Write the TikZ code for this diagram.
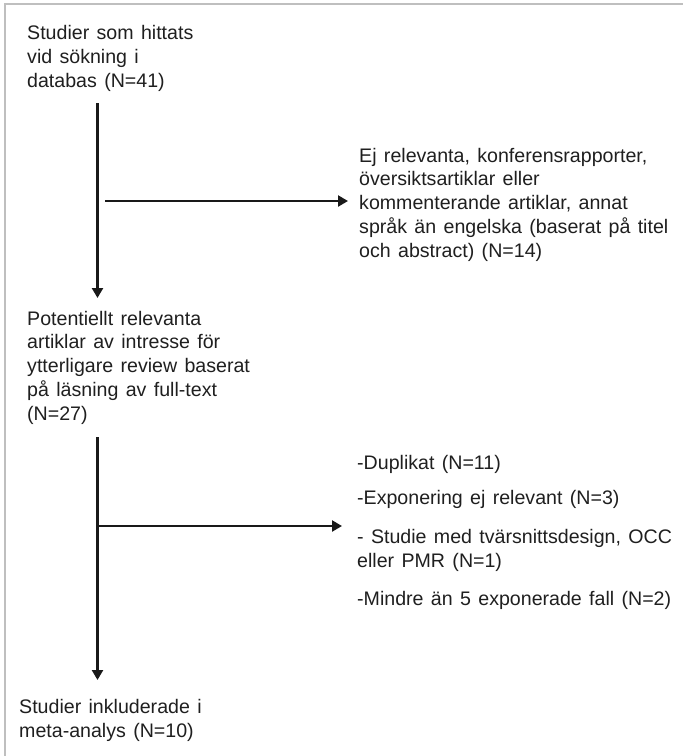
\documentclass[tikz,border=0pt]{standalone}
\usepackage{fontspec}
\setmainfont[WordSpace={1.35,1,1}]{Liberation Sans}
\usetikzlibrary{arrows.meta}
\begin{document}
\begin{tikzpicture}[x=1pt,y=-1pt,
  txt/.style={anchor=base west,inner sep=0pt,align=left,text=black!88,
    font=\fontsize{19.6}{23.7}\selectfont},
  flow/.style={line width=2.3pt,draw=black!90,
    -{Triangle[width=11pt,length=10pt]}},
  frame/.style={line width=2pt,draw=black!25}]
\useasboundingbox (0,0) rectangle (683,756);
% frame along the top and left edges
\draw[frame] (5,756) -- (5,4) -- (683,4);

% text blocks (placed by the baseline of their last line)
\node[txt] (found) at (27,87) {Studier som hittats\\vid sökning i\\databas (N=41)};
\node[txt] (excl1) at (359,257) {Ej relevanta, konferensrapporter,\\översiktsartiklar eller\\kommenterande artiklar, annat\\språk än engelska (baserat på titel\\och abstract) (N=14)};
\node[txt] (potential) at (27,420) {Potentiellt relevanta\\artiklar av intresse för\\ytterligare review baserat\\på läsning av full-text\\(N=27)};
\node[txt] (excl2) at (357,605) {-Duplikat (N=11)\\[12pt]-Exponering ej relevant (N=3)\\[15pt]- Studie med tvärsnittsdesign, OCC\\eller PMR (N=1)\\[14pt]-Mindre än 5 exponerade fall (N=2)};
\node[txt] (included) at (19,737) {Studier inkluderade i\\meta-analys (N=10)};

% connector end points
\coordinate (v1s) at (97.5,103);
\coordinate (v1e) at (97.5,298);
\coordinate (h1s) at (105,201);
\coordinate (h1e) at (348,201);
\coordinate (v2s) at (97.5,437);
\coordinate (v2e) at (97.5,680);
\coordinate (h2s) at (97.5,526);
\coordinate (h2e) at (342,526);

\draw[flow] (v1s) -- (v1e);
\draw[flow] (h1s) -- (h1e);
\draw[flow] (v2s) -- (v2e);
\draw[flow] (h2s) -- (h2e);
\end{tikzpicture}
\end{document}
